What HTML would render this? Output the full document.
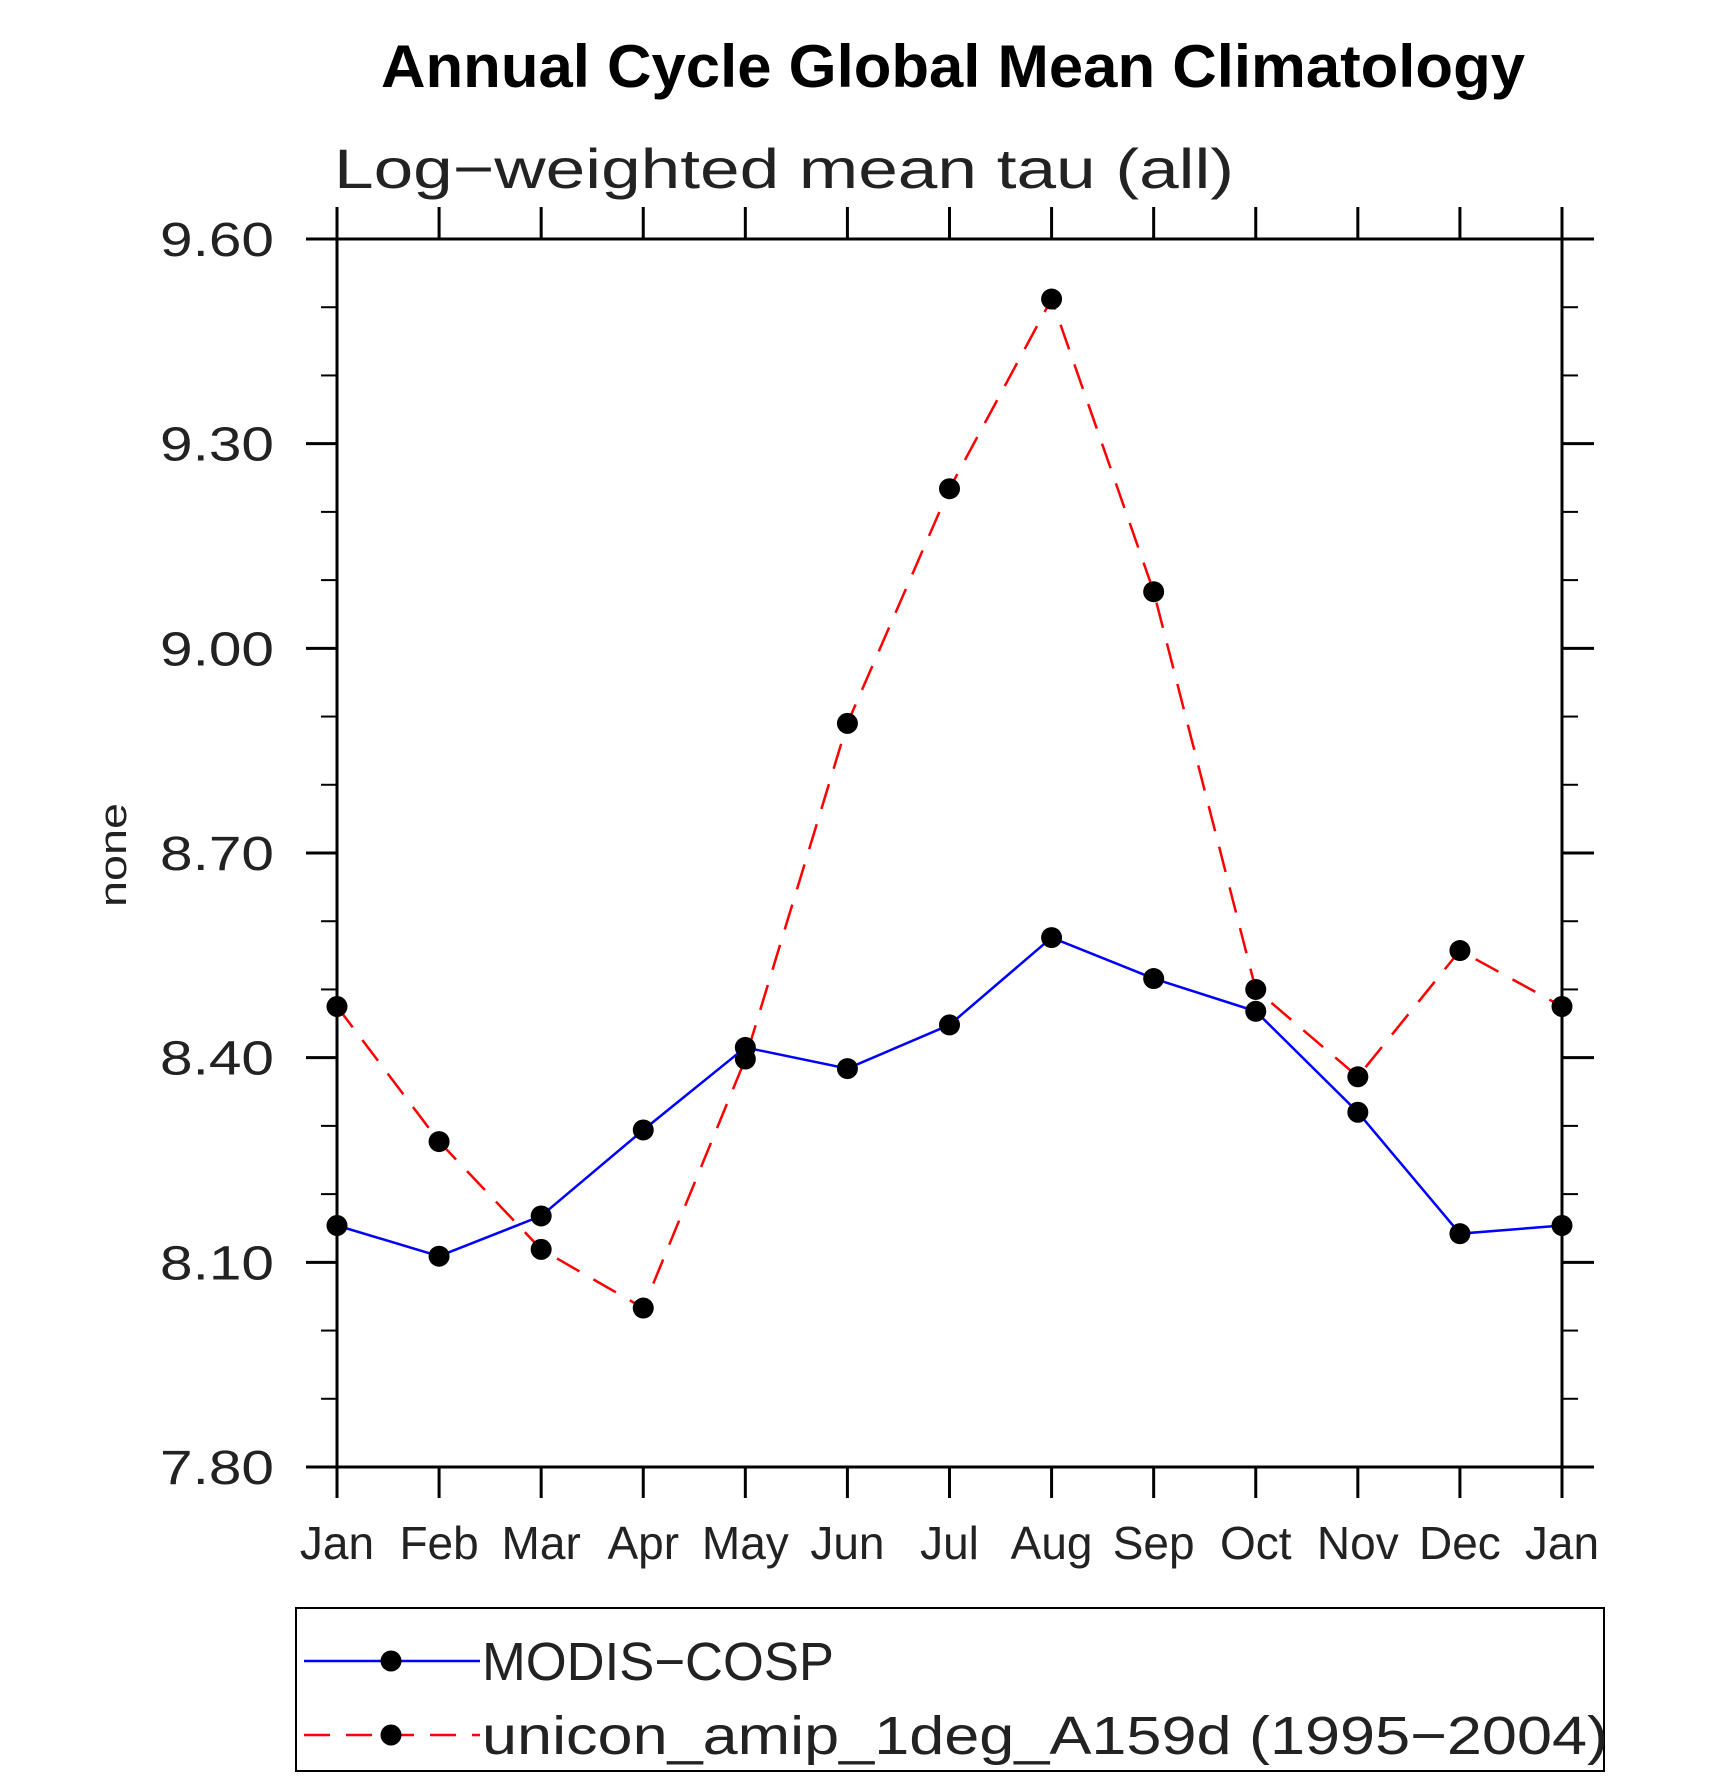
<!DOCTYPE html>
<html><head><meta charset="utf-8"><style>
body{margin:0;background:#fff}
svg{display:block}
text{font-family:"Liberation Sans",sans-serif}
</style></head><body>
<svg id="chart" width="1710" height="1778" viewBox="0 0 1710 1778" xmlns="http://www.w3.org/2000/svg">
<text x="953" y="87" text-anchor="middle" font-size="60" font-weight="bold" textLength="1144" lengthAdjust="spacingAndGlyphs">Annual Cycle Global Mean Climatology</text>
<text x="334" y="188" font-size="56" font-weight="300" textLength="900" lengthAdjust="spacingAndGlyphs" fill="#222">Log−weighted mean tau (all)</text>
<text transform="translate(126,855) rotate(-90)" text-anchor="middle" font-size="38" textLength="104" lengthAdjust="spacingAndGlyphs" fill="#222">none</text>
<g id="axes"></g>
<g id="series"></g>
<rect x="296" y="1608" width="1308" height="163" fill="none" stroke="#000" stroke-width="2"/>
<g id="legend"></g>
</svg>
<script>
const months = ["Jan","Feb","Mar","Apr","May","Jun","Jul","Aug","Sep","Oct","Nov","Dec","Jan"];
const modis = [8.154,8.109,8.168,8.294,8.415,8.384,8.448,8.576,8.516,8.468,8.320,8.142,8.154];
const unicon = [8.475,8.277,8.119,8.033,8.398,8.890,9.234,9.512,9.083,8.500,8.372,8.557,8.475];
const yTicks = [7.8,8.1,8.4,8.7,9.0,9.3,9.6];
const yTickLabels = ["7.80","8.10","8.40","8.70","9.00","9.30","9.60"];
const seriesNames = ["MODIS−COSP","unicon_amip_1deg_A159d (1995−2004)"];

const NS="http://www.w3.org/2000/svg";
const L=337,R=1562,T=239,B=1467,yMin=7.8,yMax=9.6;
const xs=i=>L+(R-L)*i/(months.length-1);
const ys=v=>B-(v-yMin)/(yMax-yMin)*(B-T);
function mk(tag,attrs,parent){const e=document.createElementNS(NS,tag);for(const k in attrs)e.setAttribute(k,attrs[k]);parent.appendChild(e);return e;}
const axes=document.getElementById('axes');
const frame=mk('rect',{x:L,y:T,width:R-L,height:B-T,fill:'none',stroke:'#000','stroke-width':3},axes);


months.forEach((m,i)=>{
  const x=xs(i);
  const t1=mk('line',{x1:x,y1:B,x2:x,y2:B+31,stroke:'#000','stroke-width':3},axes);
  
  
  const t2=mk('line',{x1:x,y1:T,x2:x,y2:T-32,stroke:'#000','stroke-width':3},axes);
  
  
  const lb=mk('text',{x:x,y:1559,'text-anchor':'middle','font-size':46,'font-weight':300,fill:'#222'},axes);
  lb.textContent=m;
  
  
});
for(let k=0;k<yTicks.length;k++){
  const y=ys(yTicks[k]);
  [[L,L-31],[R,R+32]].forEach(([a,b])=>{
    const t=mk('line',{x1:a,y1:y,x2:b,y2:y,stroke:'#000','stroke-width':3},axes);
    
    
  });
  const lb=mk('text',{x:274,y:y+17,'text-anchor':'end','font-size':48,'font-weight':300,fill:'#222',textLength:114,lengthAdjust:'spacingAndGlyphs'},axes);
  lb.textContent=yTickLabels[k];
  
  
  if(k<yTicks.length-1){
    for(let j=1;j<3;j++){
      const ym=ys(yTicks[k]+(yTicks[k+1]-yTicks[k])*j/3);
      [[L,L-16],[R,R+16]].forEach(([a,b])=>{
        const t=mk('line',{x1:a,y1:ym,x2:b,y2:ym,stroke:'#000','stroke-width':2},axes);
        
        
      });
    }
  }
}
const sg=document.getElementById('series');
function drawSeries(vals,color,dash,name){
  const pl=mk('polyline',{points:vals.map((v,i)=>xs(i)+','+ys(v)).join(' '),fill:'none',stroke:color,'stroke-width':2.5,'stroke-dasharray':dash},sg);
  
  
  vals.forEach((v,i)=>{
    const c=mk('circle',{cx:xs(i),cy:ys(v),r:10.5,fill:'#000'},sg);
    
    
  });
}
drawSeries(unicon,'#f00','26 16','unicon');
drawSeries(modis,'#00f','none','modis');
const lg=document.getElementById('legend');
[[1661,'#00f','none','legend-modis'],[1735,'#f00','26 16','legend-unicon']].forEach(([y,c,d,n],i)=>{
  const g=mk('g',{},lg);
  
  
  mk('line',{x1:304,y1:y,x2:480,y2:y,stroke:c,'stroke-width':2.5,'stroke-dasharray':d},g);
  mk('circle',{cx:391,cy:y,r:10.5,fill:'#000'},g);
  const t=mk('text',{x:482,y:y+19,'font-size':54,'font-weight':300,fill:'#222',textLength:i?1126:352,lengthAdjust:'spacingAndGlyphs'},g);
  t.textContent=seriesNames[i];
});
</script>
</body></html>
